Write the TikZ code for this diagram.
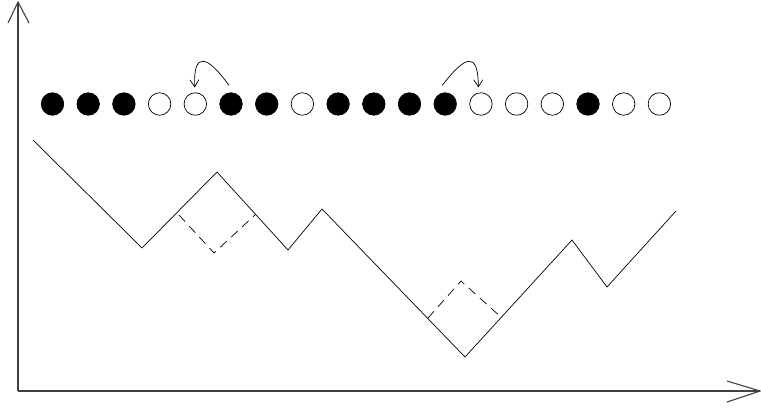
\documentclass[tikz,border=0pt]{standalone}
\usetikzlibrary{arrows.meta}
\tikzset{
  bead/.style={circle,draw=black,line width=0.7pt,minimum size=22.5pt,inner sep=0pt},
  down/.style={bead,fill=black},
  up/.style={bead,fill=white},
  axisline/.style={draw=black!75,line width=1.1pt},
  pathline/.style={draw=black,line width=0.7pt,line join=miter},
  dashline/.style={draw=black,line width=0.7pt,dash pattern=on 9pt off 6pt},
  hop/.style={draw=black,line width=0.7pt,-{Straight Barb[length=7pt,width=9pt]}}
}
\begin{document}
\begin{tikzpicture}[x=1pt,y=-1pt]
\useasboundingbox (0,0) rectangle (761,410);
% axes
\coordinate (O) at (18,391);
\coordinate (Ytop) at (18,2);
\coordinate (Xend) at (760,391);
\draw[axisline] (O) -- (Ytop);
\draw[axisline] (8,23) -- (Ytop) -- (29,23);
\draw[axisline] (O) -- (Xend);
\draw[axisline] (727,381) -- (Xend) -- (727,402);
% beads
\foreach \i/\s in {1/down,2/down,3/down,4/up,5/up,6/down,7/down,8/up,9/down,10/down,11/down,12/down,13/up,14/up,15/up,16/down,17/up,18/up}{
  \node[\s] (c\i) at ({52.5+35.7*(\i-1)},104) {};
}
% hops
\draw[hop] ([xshift=-2pt,yshift=7pt]c6.north) .. controls (208,56) and (193,50) .. ([xshift=-0.5pt,yshift=5pt]c5.north);
\draw[hop] ([xshift=-3pt,yshift=7pt]c12.north) .. controls (465,56) and (478,50) .. ([xshift=-2.5pt,yshift=5pt]c13.north);
% zigzag path
\draw[pathline] (33,140) -- (142,248) -- (217,172) -- (288,250) -- (322,209) -- (465,357) -- (572,240) -- (607,287) -- (676,211);
% dashed flips
\draw[dashline] (179,215) -- (214,253) -- (256,214);
\draw[dashline] (428,318) -- (461,281) -- (502,318);
\end{tikzpicture}
\end{document}
